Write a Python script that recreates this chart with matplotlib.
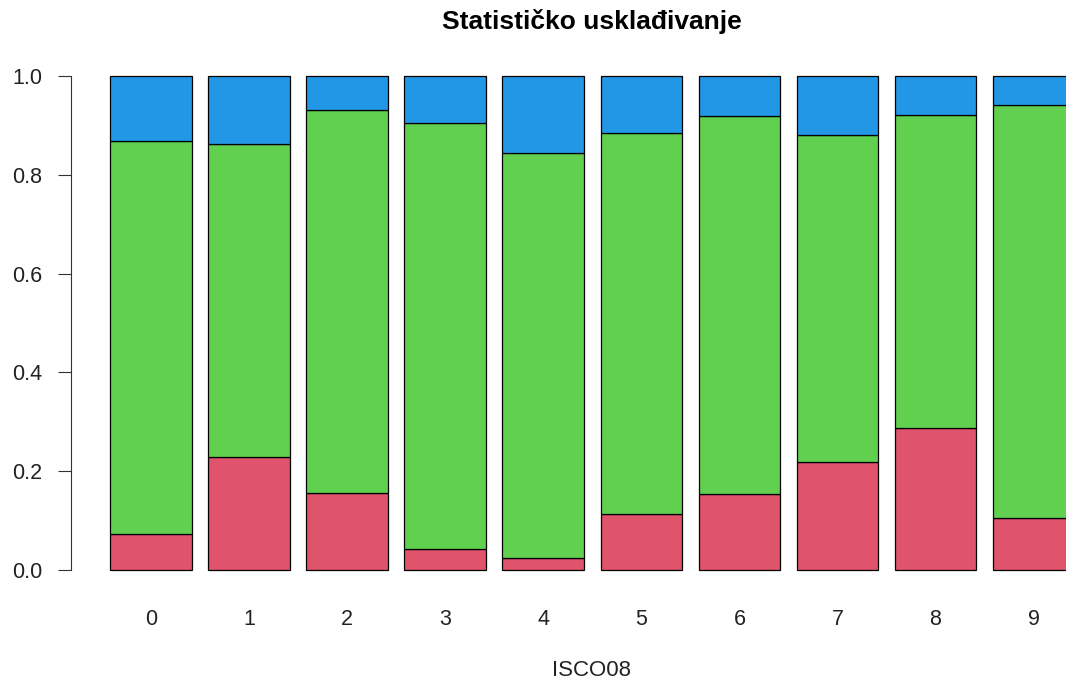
import numpy as np
import matplotlib
matplotlib.use("Agg")
import matplotlib.pyplot as plt

# Proportions per ISCO08 major group
categories = ["0", "1", "2", "3", "4", "5", "6", "7", "8", "9"]
red_share = [0.073, 0.229, 0.156, 0.042, 0.025, 0.113, 0.153, 0.218, 0.287, 0.105]
green_top = [0.868, 0.862, 0.931, 0.904, 0.844, 0.884, 0.918, 0.881, 0.921, 0.941]
blue_top = [1.0, 1.0, 1.0, 1.0, 1.0, 1.0, 1.0, 1.0, 1.0, 1.0]

red = np.array(red_share)
green = np.array(green_top) - red
blue = np.array(blue_top) - np.array(green_top)

plt.rcParams["font.family"] = ["Liberation Sans", "DejaVu Sans"]

W, H = 1066, 681
fig = plt.figure(figsize=(W / 100, H / 100), dpi=100)

# plot region in pixels (R style: 4% padding around data range)
left_px, right_px = 71, 1130
top_px, bottom_px = 56.2, 589.8
ax = fig.add_axes([left_px / W, 1 - bottom_px / H,
                   (right_px - left_px) / W, (bottom_px - top_px) / H])

x = 0.7 + 1.2 * np.arange(len(categories))
kw = dict(width=1.0, edgecolor="black", linewidth=0.9)
ax.bar(x, red, color="#DF536B", **kw)
ax.bar(x, green, bottom=red, color="#61D04F", **kw)
ax.bar(x, blue, bottom=red + green, color="#2297E6", **kw)

ax.set_xlim(-0.28, 12.68)
ax.set_ylim(-0.04, 1.04)

for s in ["top", "right", "bottom"]:
    ax.spines[s].set_visible(False)
ax.spines["left"].set_bounds(0, 1)
ax.spines["left"].set_linewidth(0.8)
ax.spines["left"].set_color("#333333")

ax.set_yticks([0, 0.2, 0.4, 0.6, 0.8, 1.0])
ax.set_yticklabels(["0.0", "0.2", "0.4", "0.6", "0.8", "1.0"])
ax.tick_params(axis="y", length=9.5, width=0.8, color="#333333", pad=11,
               labelsize=15.5, labelcolor="#222222")

ax.set_xticks(x)
ax.set_xticklabels(categories)
ax.tick_params(axis="x", length=0, pad=14, labelsize=15.5, labelcolor="#222222")

fig.text(592 / W, 1 - 670 / H, "ISCO08", fontsize=16, color="#222222",
         ha="center", va="center")
fig.text(592 / W, 1 - 22 / H, "Statističko usklađivanje", fontsize=19,
         fontweight="bold", ha="center", va="center")

fig.savefig("out.png", dpi=100)
